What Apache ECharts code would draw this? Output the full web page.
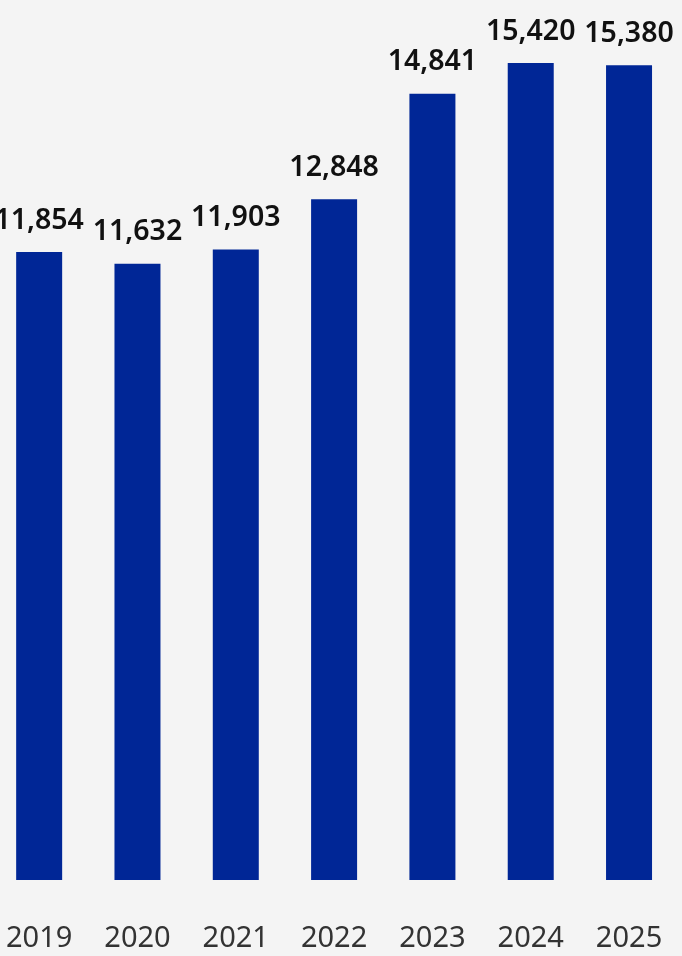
<!DOCTYPE html>
<html><head><meta charset="utf-8">
<script src="https://cdn.jsdelivr.net/npm/echarts@6/dist/echarts.min.js"></script>
<style>html,body{margin:0;padding:0;background:#f4f4f4;overflow:hidden;width:682px;height:956px;}#c{position:absolute;left:-10px;top:0;width:692px;height:956px;}</style>
</head><body><div id="c"></div>
<script>
const years = ['2019','2020','2021','2022','2023','2024','2025'];
const values = [11854, 11632, 11903, 12848, 14841, 15420, 15380];

const chart = echarts.init(document.getElementById('c'));
chart.setOption({
  backgroundColor: '#f4f4f4',
  animation: false,
  grid: { left: 0, right: 3.8, top: 0, bottom: 76, containLabel: false },
  xAxis: {
    type: 'category', data: years,
    axisLine: { show: false }, axisTick: { show: false },
    axisLabel: { color: '#333', fontSize: 29, fontFamily: 'Noto Sans', margin: 44 }
  },
  yAxis: { type: 'value', min: 0, max: 16610, show: false, splitLine: { show: false } },
  series: [{
    type: 'bar', data: values, barWidth: 46,
    itemStyle: { color: '#002696' },
    label: {
      show: true, position: 'top', distance: 17,
      color: '#111', fontSize: 28.5, fontWeight: 600, fontFamily: 'Noto Sans',
      formatter: p => p.value.toLocaleString('en-US')
    }
  }]
});
</script></body></html>
